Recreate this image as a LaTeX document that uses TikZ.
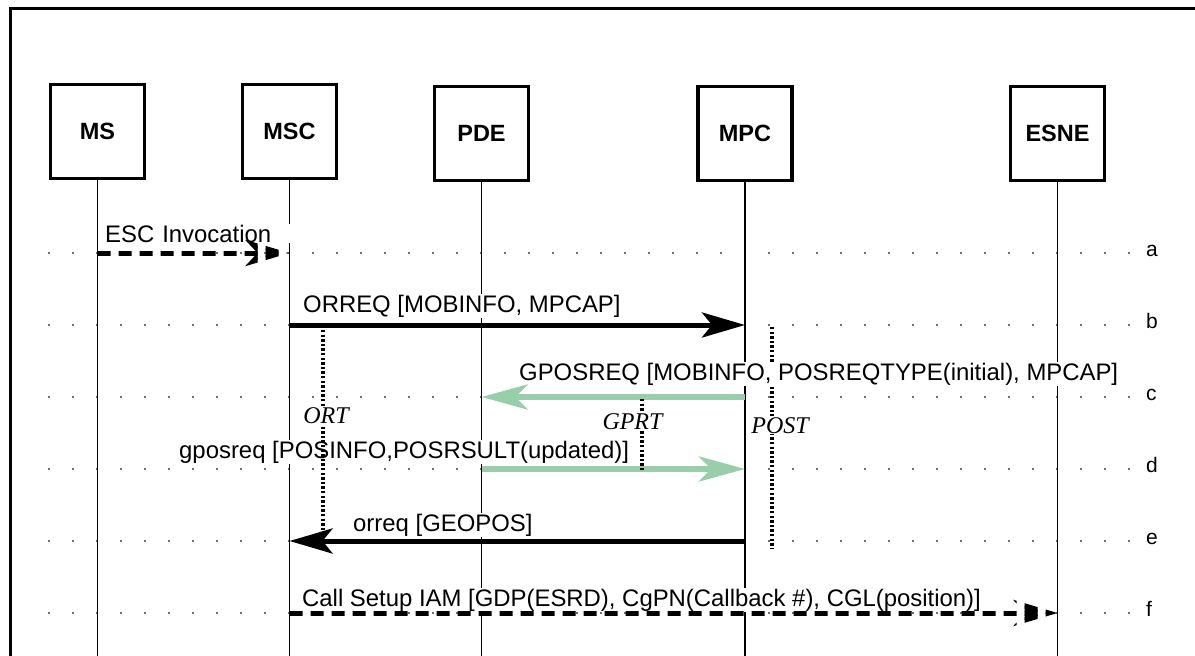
\documentclass[tikz,border=0pt]{standalone}
\usepackage{fontspec}
\setmainfont{Liberation Sans}
\newfontfamily\timerfont{Liberation Serif}
\usetikzlibrary{arrows.meta}
\definecolor{msggreen}{RGB}{153,206,171}
\definecolor{dotgray}{RGB}{110,110,110}

\begin{document}
\begin{tikzpicture}[x=1pt,y=-1pt,
  entity/.style={draw, line width=3.2pt, minimum width=94pt, minimum height=94pt,
    inner sep=0pt, font=\fontsize{23.5}{28}\selectfont\bfseries},
  lifeline/.style={line width=1.1pt},
  msg/.style={line width=5pt, -{Stealth[length=43pt,width=25pt,inset=10pt]}},
  greenmsg/.style={draw=msggreen, line width=5.5pt, -{Stealth[length=46pt,width=25pt,inset=12pt]}},
  dashmsg/.style={line width=5pt, -{Stealth[length=44pt,width=26pt,inset=12pt]}},
  lbl/.style={fill=white, inner sep=1pt, anchor=base west, font=\fontsize{23.9}{28}\selectfont},
  timer/.style={line width=3.2pt, dash pattern=on 2.4pt off 2.2pt},
  timerlbl/.style={fill=white, inner sep=1pt, anchor=base, font=\fontsize{24}{28}\timerfont\itshape},
  rowtag/.style={anchor=base west, inner sep=0pt, font=\fontsize{21}{24}\selectfont},
  ]
\useasboundingbox (0,0) rectangle (1195,656);
\clip (0,0) rectangle (1195,656);

% outer frame
\draw[line width=3pt] (10,8) rectangle (1210,670);

% dotted row guides
\foreach \y in {253,325,397,469,541,613}
  \foreach \k in {0,...,45}
    \fill[dotgray] ({49+24*\k-0.9},{\y-0.9}) rectangle ++(1.8,1.8);

% entities
\node[entity] (ms)   at (97.5,131.5)  {MS};
\node[entity] (msc)  at (289.5,131.5) {MSC};
\node[entity] (pde)  at (481.5,133.5) {PDE};
\node[entity] (mpc)  at (745,133.5)   {MPC};
\node[entity] (esne) at (1057.5,133.5){ESNE};

% anchor points on each lifeline, one per step a..f
\foreach \n/\x in {ms/97.5,msc/289.5,pde/481.5,mpc/745,esne/1057.5}{
  \coordinate (\n-end) at (\x,660);
  \foreach \r/\y in {a/253,b/325,c/397,d/469,e/541,f/613}
    \coordinate (\n-\r) at (\x,\y);
}

% lifelines
\foreach \n in {ms,msc,pde,mpc,esne}
  \draw[lifeline] (\n.south) -- (\n-end);

% step tags
\foreach \r/\y in {a/253,b/325,c/397,d/469,e/541,f/613}
  \node[rowtag] (tag-\r) at (1146,\y+3) {\r};

% POST timer
\coordinate (post-top) at (772,327);
\coordinate (post-bot) at (772,548);
\draw[timer] (post-top) -- (post-bot);

% message labels
\node[lbl, text width=186pt] (lbl-a) at (104,242) {ESC Invocation};
\node[lbl] (lbl-b) at (302,312) {ORREQ [MOBINFO, MPCAP]};
\node[lbl] (lbl-c) at (518,380) {GPOSREQ [MOBINFO, POSREQTYPE(initial), MPCAP]};
\node[lbl] (lbl-d) at (178,458) {gposreq [POSINFO,POSRSULT(updated)]};
\node[lbl] (lbl-e) at (352,531) {orreq [GEOPOS]};
\node[lbl] (lbl-f) at (301,606) {Call Setup IAM [GDP(ESRD), CgPN(Callback \#), CGL(position)]};

% messages
\begin{scope}
  \clip \foreach \k in {0,...,9}
    {([xshift={\k*21pt}, yshift=16pt]ms-a) rectangle ([xshift={\k*21pt+13pt}, yshift=-16pt]ms-a)};
  \draw[dashmsg] (ms-a) -- (msc-a);
\end{scope}
\draw[msg] (msc-b) -- (mpc-b);
\draw[greenmsg] (mpc-c) -- (pde-c);
\draw[greenmsg] (pde-d) -- (mpc-d);
\draw[msg] (mpc-e) -- (msc-e);
\begin{scope}
  \clip \foreach \k in {0,...,37}
    {([xshift={\k*21pt}, yshift=16pt]msc-f) rectangle ([xshift={\k*21pt+13pt}, yshift=-16pt]msc-f)};
  \draw[dashmsg] (msc-f) -- (esne-f);
\end{scope}

% remaining timers
\coordinate (ort-top) at (323,330);
\coordinate (ort-bot) at (323,537);
\draw[timer] (ort-top) -- (ort-bot);
\node[timerlbl] (ort) at (326,423) {ORT};

\coordinate (gprt-top) at (642,399);
\coordinate (gprt-bot) at (642,470);
\draw[timer] (gprt-top) -- (gprt-bot);
\node[timerlbl] (gprt) at (632.5,429) {GPRT};

\node[timerlbl] (post) at (780,433) {POST};
\end{tikzpicture}
\end{document}
